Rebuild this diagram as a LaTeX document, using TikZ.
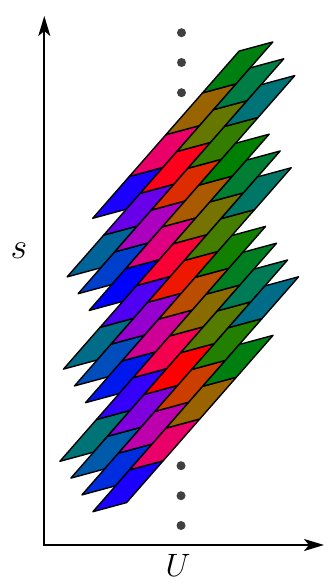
\documentclass[tikz,border=0pt]{standalone}
\usepackage{graphicx}
\usetikzlibrary{arrows.meta}
\begin{document}
\begin{tikzpicture}[x=1pt,y=-1pt,
  cell/.style={draw=black, line width=1.4pt, line join=round},
  axis/.style={line width=1.9pt, {Stealth[length=20pt,width=12pt,inset=5pt]}-{Stealth[length=20pt,width=12pt,inset=5pt]}},
  dot/.style={circle, fill=black!75, inner sep=0pt, minimum size=9pt},
  lbl/.style={inner sep=0pt}]
\useasboundingbox (0,0) rectangle (329,585);
% lattice of parallelogram cells
\foreach \m/\jlo/\jhi in {0/0/3,1/-1/3,2/-1/3,3/-1/2,4/-2/2,5/-2/2,6/-2/1,7/-3/1,8/-3/1,9/-3/1,10/-3/0}{
  \foreach \j in {\jlo,...,\jhi}{
    \pgfmathsetmacro\hh{mod(248+24*\m+80*\j,360)}
    \ifdim\hh pt<120pt
      \pgfmathsetmacro\tt{\hh/120}
      \pgfmathsetmacro\colR{1-\tt}
      \pgfmathsetmacro\colG{0.5*(1-(1-\tt)*(1-\tt)*(1-\tt))}
      \def\colB{0}
    \else\ifdim\hh pt<240pt
      \pgfmathsetmacro\tt{(\hh-120)/120}
      \def\colR{0}
      \pgfmathsetmacro\colG{0.5*(1-\tt*\tt*\tt)}
      \pgfmathsetmacro\colB{\tt}
    \else
      \pgfmathsetmacro\tt{(\hh-240)/120}
      \pgfmathsetmacro\colR{sin(90*\tt)}
      \def\colG{0}
      \pgfmathsetmacro\colB{cos(90*\tt)}
    \fi\fi
    \definecolor{cc}{rgb}{\colR,\colG,\colB}
    \pgfmathsetmacro\px{92.7+11*\m+36.6*\j}
    \pgfmathsetmacro\py{218.3+16.8*\m-41.8*\j}
    \draw[cell, fill=cc] (\px,\py) -- ++(33.69,-9.12) -- ++(36.6,-41.8) -- ++(-33.69,9.12) -- cycle;
  }
}
% dots
\node[dot] (d1) at (181.5,32.7) {};
\node[dot] (d2) at (181.5,62.5) {};
\node[dot] (d3) at (181.5,92.7) {};
\node[dot] (d4) at (181,465.7) {};
\node[dot] (d5) at (181,495.7) {};
\node[dot] (d6) at (181,525.5) {};
% axes
\coordinate (corner) at (44.3,545);
\coordinate (ytip) at (44.3,16);
\coordinate (xtip) at (324,545);
\draw[axis] (ytip) -- (corner) -- (xtip);
\node[lbl] (s) at (19,251) {\scalebox{1.45}{\Huge$s$}};
\node[lbl] (U) at (178,565) {\scalebox{1.3}{\Huge$U$}};
\end{tikzpicture}
\end{document}
